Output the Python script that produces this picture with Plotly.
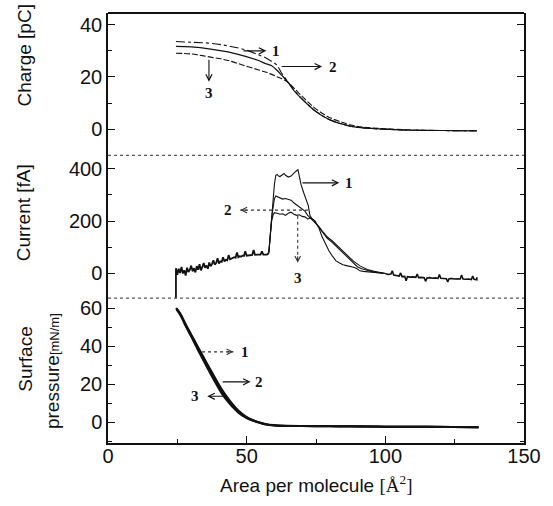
import plotly.graph_objects as go
from plotly.subplots import make_subplots

# ---------------- data ----------------
charge_area = [24.5, 30, 37, 43.3, 49.6, 54, 57.1, 59, 60.9, 62.5, 64.6, 67, 69.6, 72,
               74.7, 78, 80.9, 84, 87.2, 92, 99.7, 110, 120, 133]
charge_1 = [33.6, 33.3, 32.9, 31.9, 30.4, 28.6, 27.2, 26.0, 24.6, 21.6, 18.6, 15.0, 12.0,
            9.5, 7.0, 4.7, 3.2, 2.1, 1.2, 0.5, 0.0, -0.4, -0.5, -0.6]
charge_2 = [31.7, 31.5, 30.7, 29.6, 27.9, 26.4, 25.0, 24.3, 22.6, 20.8, 18.4, 14.9, 11.9,
            9.5, 7.0, 4.7, 3.2, 2.1, 1.2, 0.5, 0.0, -0.4, -0.5, -0.6]
charge_3 = [29.1, 28.8, 27.6, 26.3, 24.2, 22.8, 21.8, 21.0, 20.1, 19.4, 18.2, 15.8, 13.0,
            10.5, 8.0, 5.6, 4.0, 2.8, 1.7, 0.8, 0.2, -0.3, -0.5, -0.6]

# current: shared noisy pre-peak part (includes the vertical start line)
cur_base_area = [24.5, 24.5, 25, 25.5, 26, 26.5, 27, 27.5, 28, 28.5, 29, 29.5, 30, 30.5, 31,
                 31.5, 32, 32.5, 33, 33.5, 34, 34.5, 35, 35.5, 36, 36.5, 37, 37.5, 38, 38.5,
                 39, 39.5, 40, 40.5, 41, 41.5, 42, 42.5, 43, 43.5, 44, 44.5, 45, 45.5, 46,
                 46.5, 47, 47.5, 48, 48.5, 49, 49.5, 50, 51, 52, 52.5, 53, 54, 55, 55.5, 56,
                 57, 57.5, 58]
cur_base = [-150, 20, -5, 18, 2, 25, 0, 12, -8, 22, 6, 14, 30, 8, 20, 4, 28, 14, 35, 12, 24,
            40, 22, 30, 18, 42, 28, 36, 50, 34, 40, 58, 38, 46, 44, 62, 46, 52, 50, 70, 54,
            56, 58, 62, 60, 80, 62, 66, 64, 68, 67, 85, 68, 70, 71, 90, 71, 72, 72, 84, 72,
            72, 73, 80]

cur1_area = [58, 58.5, 59, 59.5, 60, 60.5, 61, 61.5, 62, 63, 63.5, 64, 65, 66, 67, 67.5, 68,
             68.5, 69, 69.6, 70.5, 71.5, 72.2, 72.8, 73.5, 74.7, 76, 77.2, 78.5, 79.7, 81,
             82.2, 83.5, 84.7, 86, 87.5, 88.5, 89.5, 90.9, 92, 93.5, 95, 97, 100]
cur1 = [80, 150, 220, 280, 340, 375, 378, 372, 370, 378, 382, 375, 368, 372, 385, 388, 392,
        396, 370, 340, 310, 278, 260, 222, 210, 200, 175, 140, 110, 86, 65, 48, 40, 33, 30,
        28, 24, 20, 10, 8, 6, 4, 2, 0]
cur2_area = [58, 58.5, 59, 59.5, 60, 60.5, 61, 62, 63, 64, 65, 66, 67, 68, 69, 70, 71, 72, 73,
             74.7, 76, 77.2, 79, 80.9, 82.8, 84.7, 86.5, 88.5, 91, 93.5, 96, 100]
cur2 = [80, 150, 210, 250, 285, 296, 294, 288, 284, 286, 283, 280, 270, 262, 255, 246, 238,
        222, 212, 195, 180, 163, 140, 124, 105, 86, 66, 47, 28, 15, 8, 0]
cur3_area = [58, 58.5, 59, 59.5, 60, 61, 62, 63, 64, 65, 66, 67, 68, 69, 70, 71, 72, 73, 74,
             74.7, 76, 77.2, 79, 80.9, 82.8, 84.7, 86.5, 88.5, 90, 91.5, 93.5, 96, 100]
cur3 = [80, 150, 200, 222, 232, 230, 226, 228, 222, 230, 234, 226, 222, 224, 218, 216, 208,
        212, 205, 195, 178, 160, 135, 118, 98, 78, 58, 40, 25, 18, 12, 5, 0]

cur_tail_area = [100, 101, 102, 102.5, 103, 104, 105, 105.5, 106, 107, 107.5, 108, 109, 110,
                 111, 111.5, 112, 113, 114, 114.5, 115, 116, 117, 118, 119, 119.5, 120, 121,
                 122, 122.5, 123, 124, 125, 126, 127, 127.5, 128, 129, 130, 131, 131.5, 132,
                 133, 133]
cur_tail = [0, -4, -2, 10, -6, -8, -10, 2, -12, -11, -28, -12, -14, -13, -15, -2, -16, -15,
            -16, -30, -17, -16, -18, -17, -19, -4, -18, -19, -20, -32, -20, -19, -21, -20,
            -21, -6, -21, -22, -21, -23, -10, -22, -24, -14]

pressure_area = [24.6, 26, 28.2, 30, 32, 34, 35.8, 37.5, 39.5, 41.5, 43.3, 45, 47, 49.5,
                 52.1, 55, 57.1, 60, 62.1, 70, 80, 87.2, 100, 115, 133.6]
pressure_1 = [60.0, 57.3, 51.0, 46.2, 40.8, 35.5, 30.6, 26.2, 21.0, 16.2, 12.5, 9.3, 6.1,
              3.2, 1.2, -0.3, -1.1, -1.6, -1.8, -2.0, -2.1, -2.2, -2.4, -2.5, -2.7]
pressure_2 = [60.0, 57.0, 50.5, 45.5, 40.0, 34.5, 29.5, 25.0, 19.8, 15.0, 11.5, 8.5, 5.5,
              2.8, 1.0, -0.4, -1.2, -1.7, -1.9, -2.1, -2.2, -2.2, -2.4, -2.5, -2.7]
pressure_3 = [59.5, 56.5, 50.0, 45.0, 39.2, 33.6, 28.6, 24.0, 18.8, 14.0, 10.6, 7.8, 5.0,
              2.5, 0.8, -0.5, -1.3, -1.8, -2.0, -2.1, -2.2, -2.3, -2.4, -2.5, -2.7]

x_ticks = [0, 50, 100, 150]
charge_ticks = [0, 20, 40]
current_ticks = [0, 200, 400]
pressure_ticks = [0, 20, 40, 60]

# ---------------- figure ----------------
INK = "#111111"
fig = make_subplots(rows=3, cols=1, shared_xaxes=True, vertical_spacing=0,
                    row_heights=[0.331, 0.332, 0.337])

def line(x, y, row, width=1.2, dash="solid", shape="linear"):
    fig.add_trace(go.Scatter(x=x, y=y, mode="lines", showlegend=False, hoverinfo="skip",
                             line=dict(color=INK, width=width, dash=dash, shape=shape)),
                  row=row, col=1)

line(charge_area, charge_1, 1, 1.1, "dashdot", "spline")
line(charge_area, charge_2, 1, 1.2, "solid", "spline")
line(charge_area, charge_3, 1, 1.1, "6px,2px", "spline")

line(cur_base_area, cur_base, 2, 1.8)
line(cur1_area, cur1, 2, 1.1)
line(cur2_area, cur2, 2, 1.1)
line(cur3_area, cur3, 2, 1.1)
line(cur_tail_area, cur_tail, 2, 1.6)

line(pressure_area, pressure_1, 3, 2.0, "solid", "spline")
line(pressure_area, pressure_2, 3, 2.0, "solid", "spline")
line(pressure_area, pressure_3, 3, 2.0, "solid", "spline")

TICKFONT = dict(family="Liberation Sans, Arial, sans-serif", size=20, color=INK)

yaxis_common = dict(showline=True, linecolor=INK, linewidth=1.5, mirror="ticks",
                    ticks="inside", ticklen=7, tickwidth=1.3, tickcolor=INK,
                    showgrid=False, zeroline=False, tickfont=TICKFONT)
fig.update_yaxes(range=[-10, 44.5], tickvals=charge_ticks,
                 minor=dict(dtick=10, ticks="inside", ticklen=4, tickcolor=INK),
                 row=1, col=1, **yaxis_common)
fig.update_yaxes(range=[-94, 451], tickvals=current_ticks,
                 minor=dict(dtick=100, ticks="inside", ticklen=4, tickcolor=INK),
                 row=2, col=1, **yaxis_common)
fig.update_yaxes(range=[-11, 65.3], tickvals=pressure_ticks,
                 minor=dict(dtick=10, ticks="inside", ticklen=4, tickcolor=INK),
                 row=3, col=1, **yaxis_common)

fig.update_xaxes(range=[0, 150], showgrid=False, zeroline=False, showline=False,
                 ticks="", showticklabels=False)
fig.update_xaxes(row=3, col=1, showline=True, linecolor=INK, linewidth=1.5,
                 ticks="inside", ticklen=7, tickwidth=1.3, tickcolor=INK,
                 showticklabels=True, tickvals=x_ticks, tickfont=TICKFONT,
                 ticklabelstandoff=-6,
                 minor=dict(dtick=25, ticks="inside", ticklen=4, tickcolor=INK))

# frame top border and panel separators
fig.add_shape(type="line", xref="paper", yref="paper", x0=0, x1=1, y0=1, y1=1,
              line=dict(color=INK, width=1.8))
for yy in (0.337, 0.669):
    fig.add_shape(type="line", xref="paper", yref="paper", x0=0, x1=1, y0=yy, y1=yy,
                  line=dict(color="#555555", width=1.2, dash="dot"))

LABELFONT = dict(family="Liberation Serif, Times New Roman, serif", size=15, color=INK)

def arrow(x0, y0, x1, y1, yref, label, lx, ly, dotted=False):
    xr = "x" if yref == "y" else ("x2" if yref == "y2" else "x3")
    if dotted:
        fig.add_shape(type="line", xref=xr, yref=yref, x0=x0, y0=y0, x1=x1, y1=y1,
                      line=dict(color="#333333", width=1.1, dash="dot"))
        dx = 0 if x0 == x1 else (-8 if x1 > x0 else 8)
        dy = 0 if y0 == y1 else (-8 if y1 < y0 else 8)
        fig.add_annotation(x=x1, y=y1, xref=xr, yref=yref, ax=dx, ay=dy, text="",
                           showarrow=True, arrowhead=5, arrowsize=1.1, arrowwidth=1,
                           arrowcolor="#333333")
    else:
        fig.add_annotation(x=x1, y=y1, xref=xr, yref=yref, ax=x0, ay=y0, axref=xr,
                           ayref=yref, text="", showarrow=True, arrowhead=5,
                           arrowsize=1.1, arrowwidth=1.1, arrowcolor=INK)
    fig.add_annotation(x=lx, y=ly, xref=xr, yref=yref, text="<b>%s</b>" % label,
                       showarrow=False, font=LABELFONT)

arrow(48.3, 30, 57.1, 30, "y", "1", 60.5, 30)
arrow(62.1, 24, 77.2, 24, "y", "2", 81.0, 24)
arrow(36.4, 27.2, 36.4, 18.2, "y", "3", 36.4, 13.8)

arrow(69.6, 346, 83.4, 346, "y2", "1", 86.8, 346)
arrow(72.1, 242, 47.7, 242, "y2", "2", 43.3, 242, dotted=True)
arrow(68.4, 220, 68.4, 41, "y2", "3", 68.4, -17, dotted=True)

arrow(33.9, 37, 45.2, 37, "y3", "1", 49.4, 37, dotted=True)
arrow(40.8, 21.2, 51.4, 21.2, "y3", "2", 54.6, 21.2)
arrow(42.0, 13.6, 35.8, 13.6, "y3", "3", 31.4, 13.6)

TITLEFONT = dict(family="Liberation Sans, Arial, sans-serif", size=19, color=INK)
fig.add_annotation(xref="paper", yref="paper", x=-0.201, y=0.902, text="Charge [pC]",
                   textangle=-90, showarrow=False, font=TITLEFONT,
                   xanchor="center", yanchor="middle")
fig.add_annotation(xref="paper", yref="paper", x=-0.201, y=0.535, text="Current [fA]",
                   textangle=-90, showarrow=False, font=TITLEFONT,
                   xanchor="center", yanchor="middle")
fig.add_annotation(xref="paper", yref="paper", x=-0.198, y=0.195, text="Surface",
                   textangle=-90, showarrow=False, font=TITLEFONT,
                   xanchor="center", yanchor="middle")
fig.add_annotation(xref="paper", yref="paper", x=-0.135, y=0.167,
                   text="pressure<span style='font-size:13px'>[mN/m]</span>",
                   textangle=-90, showarrow=False, font=TITLEFONT,
                   xanchor="center", yanchor="middle")
fig.add_annotation(xref="paper", yref="paper", x=0.5, y=-0.095,
                   text="Area per molecule <span style='font-family:Liberation Serif'>[Å<sup>2</sup>]</span>",
                   showarrow=False, font=TITLEFONT, xanchor="center", yanchor="middle")

fig.update_layout(width=553, height=506, margin=dict(l=108, r=23, t=13, b=63),
                  paper_bgcolor="white", plot_bgcolor="white", showlegend=False)

fig.write_html("out.html", config={"displayModeBar": False},
               post_script="document.body.style.margin='0';document.body.style.overflow='hidden';")
